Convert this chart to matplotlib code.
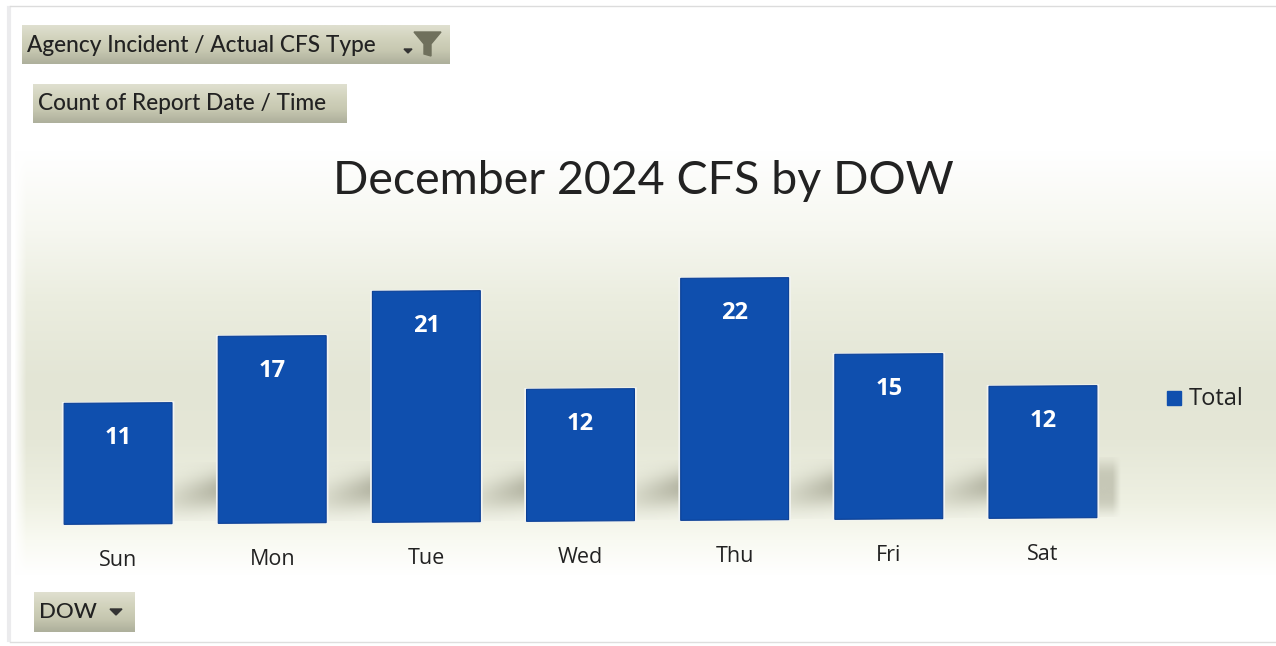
import numpy as np
import matplotlib
matplotlib.use("Agg")
import matplotlib.pyplot as plt
from matplotlib.patches import Rectangle, Polygon
from matplotlib.colors import LinearSegmentedColormap, to_rgb
from matplotlib.transforms import Affine2D

plt.rcParams["font.family"] = ["Open Sans", "DejaVu Sans"]

days = ["Sun", "Mon", "Tue", "Wed", "Thu", "Fri", "Sat"]
totals = [11, 17, 21, 12, 22, 15, 12]

W, H = 1276, 646
BLUE = "#0f4fae"
DARK = "#222222"

fig = plt.figure(figsize=(W / 100, H / 100), dpi=100, facecolor="white")

# backdrop and buttons live in a pixel-space axes
bg = fig.add_axes([0, 0, 1, 1])
bg.set_xlim(0, W)
bg.set_ylim(H, 0)
bg.axis("off")

ys = [0, 150, 230, 300, 380, 440, 500, 540, 575, 646]
cs = ["#ffffff", "#ffffff", "#f6f7f0", "#ebeddf", "#e3e5d5", "#e5e7d7", "#eef0e2", "#f9faf2",
      "#ffffff", "#ffffff"]
ramp = np.array([np.interp(np.arange(H), ys, [to_rgb(c)[k] for c in cs]) for k in range(3)]).T
img = np.repeat(ramp[:, None, :], W, axis=1)
fade = np.clip((np.arange(W) - 14) / 12, 0, 1)[None, :, None]
img = 1 - (1 - img) * fade
bg.imshow(img, extent=[0, W, H, 0], aspect="auto", zorder=0)

# sheet edge
bg.plot([9, 9], [8, 640], color="#ebebed", lw=3, zorder=1)
bg.plot([10, W], [6, 6], color="#dcdcdc", lw=1, zorder=1)
bg.plot([10, W], [642, 642], color="#dedede", lw=1, zorder=1)

btn_cmap = LinearSegmentedColormap.from_list("btn", ["#dfdfcf", "#d2d3bd", "#c6c7b0", "#aeb09c"])


def button(x0, y0, x1, y1, label, size):
    bg.imshow(np.linspace(0, 1, 32)[:, None], cmap=btn_cmap, extent=[x0, x1, y1, y0],
              aspect="auto", zorder=2)
    bg.text(x0 + 5, (y0 + y1) / 2 + 0.5, label, fontsize=size, color=DARK, va="center",
            ha="left", family=["Lato"], fontweight="medium", zorder=3)


button(22, 25, 450, 64, "Agency Incident / Actual CFS Type", 16.3)
button(33, 84, 347, 123, "Count of Report Date / Time", 16.3)
button(34, 592, 135, 632, "DOW", 16)
bg.set_xlim(0, W)
bg.set_ylim(H, 0)

# filter icon and dropdown arrows
bg.add_patch(Polygon([[414, 32], [441, 32], [431, 44], [431, 56], [424, 54], [424, 44]],
                     color="#6f705c", zorder=3))
bg.add_patch(Polygon([[404, 49], [412, 49], [408, 53]], color="#333333", zorder=3))
bg.add_patch(Polygon([[110, 609], [122, 609], [116, 615]], color="#333333", zorder=3))

bg.text(643, 181, "December 2024 CFS by DOW", fontsize=33.5, color=DARK, ha="center",
        va="center", family=["Lato", "DejaVu Sans"], zorder=3)

# legend
bg.add_patch(Rectangle((1167, 391), 14, 14, color=BLUE, zorder=3))
bg.text(1189, 399, "Total", fontsize=17, color=DARK, va="center", ha="left", zorder=3)

# the chart itself
left, right = 41, 1120
base_y, top_y = 521, 246
ax = fig.add_axes([left / W, 1 - base_y / H, (right - left) / W, (base_y - top_y) / H])
ax.patch.set_alpha(0)
ax.set_xlim(-0.5, len(days) - 0.5)
ax.set_ylim(0, 25)
for s in ax.spines.values():
    s.set_visible(False)
ax.set_yticks([])
ax.set_xticks([])

# baseline creeps up about 6px across the page, so shear instead of rotating
mid = left + (right - left) / 2 + 0.5
slope = 0.0065
tilt = Affine2D().translate(-mid, 0) + Affine2D().from_values(1, slope, 0, 1, 0, 0) + Affine2D().translate(mid, 0)
bar_tf = ax.transData + tilt

xpos = np.arange(len(days))
width = 0.70

# soft floor shadow to the right of each bar, it rises towards the next bar
shadow_cmap = LinearSegmentedColormap.from_list("sh", [(0.58, 0.58, 0.5, 0), (0.58, 0.58, 0.5, 1)])
gy, gx = np.mgrid[0:1:64j, 0:1:64j]
for i, x in enumerate(xpos):
    last = i == len(xpos) - 1
    span = 0.15 if last else 0.31
    if last:
        a = 0.42 * np.clip((1 - gx) / 0.35, 0, 1) * np.exp(-((gy - 0.5) / 0.42) ** 4)
    else:
        centre = 0.62 - 0.16 * gx
        a = (0.22 + 0.4 * gx) * np.exp(-((gy - centre) / 0.3) ** 2)
    ax.imshow(a, cmap=shadow_cmap, vmin=0, vmax=1, aspect="auto", zorder=1, origin="upper",
              extent=[x + width / 2, x + width / 2 + span, 0.1, 5.5], transform=bar_tf,
              interpolation="bilinear")
ax.set_xlim(-0.5, len(days) - 0.5)
ax.set_ylim(0, 25)

for x, v, d in zip(xpos, totals, days):
    ax.bar(x, v, width=width + 0.012, color="none", edgecolor="#f2f4f2", linewidth=2, zorder=2,
           transform=bar_tf, clip_on=False)
    ax.bar(x, v, width=width, color=BLUE, edgecolor="#0b3f95", linewidth=0.8, zorder=3,
           transform=bar_tf, clip_on=False)
    ax.text(x, v - 3.15, str(v), color="white", fontsize=17, fontweight="bold",
            ha="center", va="center", zorder=4, transform=bar_tf)
    ax.text(x, -3.35, d, color=DARK, fontsize=15.5, ha="center", va="center", zorder=4,
            transform=bar_tf, clip_on=False)

fig.savefig("out.png", dpi=100)
